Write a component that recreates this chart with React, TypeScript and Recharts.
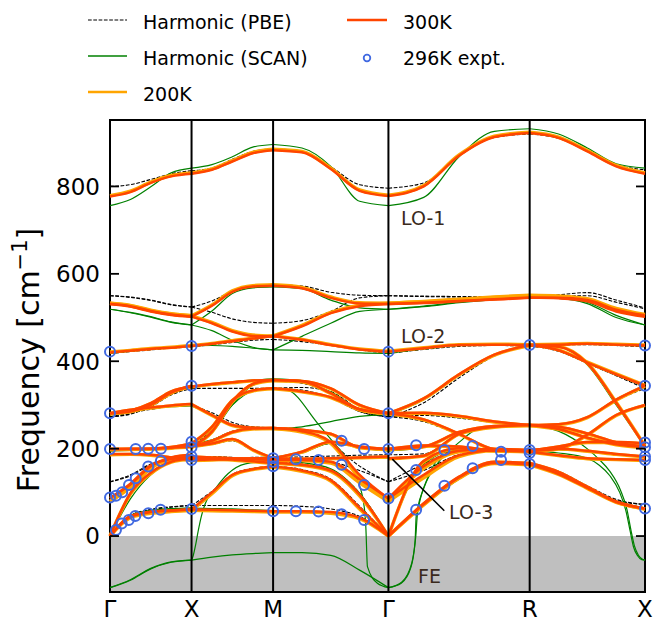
import React from 'react';
import { ComposedChart, Line, Scatter, XAxis, YAxis, ReferenceArea, ReferenceLine } from 'recharts';

const W = 664;
const H = 623;
const PLOT = { left: 110, right: 645, top: 120, bottom: 592 };
const FONT = '"DejaVu Sans", Verdana, sans-serif';

// path Γ-X-M-Γ-R-X, distance in units of 2π/a
const symK = [0, 1, 2, 3.4142, 5.1463, 6.5605];
const symLabels = ['Γ', 'X', 'M', 'Γ', 'R', 'X'];
const yTicks = [0, 200, 400, 600, 800];
const Y_MIN = -128;
const Y_MAX = 952;

// sample positions on each segment
const kGX = [0, 0.25, 0.5, 0.75, 1];
const kXM = [1, 1.25, 1.5, 1.75, 2];
const kMG = [2, 2.3536, 2.7071, 3.0607, 3.4142];
const kGR = [3.4142, 3.8472, 4.2802, 4.7132, 5.1463];
const kRX = [5.1463, 5.4998, 5.8534, 6.2069, 6.5605];

// ---------- 300K ----------
const t300GX = [
  [0, 44, 55, 58, 61], [0, 46, 56, 59, 62], [0, 98, 145, 170, 178], [87, 120, 162, 176, 182],
  [87, 118, 160, 180, 186], [188, 188, 186, 180, 174], [199, 199, 200, 204, 212], [199, 200, 200, 202, 205],
  [281, 289, 294, 299, 302], [281, 287, 304, 331, 342], [281, 285, 300, 328, 344], [420, 424, 428, 431, 435],
  [531, 525, 514, 506, 502], [531, 526, 515, 507, 502], [777, 787, 808, 823, 829],
];
const t300XM = [
  [61, 60, 59, 58, 57], [61, 100, 140, 153, 159], [178, 177, 175, 171, 167], [182, 180, 178, 176, 174],
  [302, 277, 254, 248, 247], [174, 175, 177, 178, 178], [206, 212, 222, 198, 178], [206, 218, 238, 246, 247],
  [212, 250, 311, 333, 338], [203, 239, 308, 348, 357], [342, 348, 352, 356, 357], [435, 440, 446, 452, 457],
  [502, 487, 468, 458, 457], [502, 527, 559, 571, 573], [829, 838, 857, 876, 883],
];
const t300MG = [
  [57, 57, 55, 42, 0], [159, 150, 128, 65, 0], [167, 163, 150, 95, 0], [174, 174, 170, 130, 86],
  [247, 240, 215, 140, 86], [178, 177, 178, 180, 182], [178, 193, 216, 205, 199], [247, 243, 234, 203, 199],
  [338, 331, 318, 290, 281], [357, 354, 327, 290, 281], [357, 355, 338, 300, 281], [457, 449, 437, 427, 422],
  [457, 480, 510, 526, 531], [573, 567, 545, 532, 531], [883, 878, 840, 790, 778],
];
const t300GR = [
  [0, 75, 136, 170, 167], [0, 73, 134, 167, 164], [0, 172, 201, 196, 193], [86, 160, 195, 199, 197],
  [86, 140, 185, 196, 195], [178, 184, 234, 250, 254], [199, 207, 205, 196, 195], [199, 205, 238, 252, 254],
  [281, 267, 234, 199, 195], [281, 315, 370, 415, 437], [281, 282, 275, 262, 254], [422, 430, 437, 438, 437],
  [531, 534, 538, 542, 546], [531, 533, 537, 541, 545], [778, 800, 870, 913, 922],
];
const t300RX = [
  [167, 147, 113, 79, 63], [164, 142, 110, 78, 63], [193, 185, 178, 176, 174], [197, 200, 195, 188, 182],
  [195, 205, 215, 215, 212], [254, 245, 225, 210, 203], [195, 200, 232, 277, 300], [254, 256, 272, 312, 344],
  [254, 250, 235, 215, 205], [437, 425, 397, 370, 344], [437, 433, 395, 305, 205], [437, 438, 440, 438, 436],
  [546, 544, 537, 514, 502], [545, 545, 540, 518, 505], [922, 911, 880, 846, 829],
];

// ---------- 200K ----------
const t200GX = [
  [0, 42, 52, 56, 59], [0, 44, 54, 57, 60], [0, 96, 143, 169, 177], [79, 113, 158, 175, 181],
  [79, 111, 155, 178, 185], [186, 187, 185, 179, 173], [198, 198, 199, 203, 211], [198, 199, 199, 201, 204],
  [280, 288, 293, 298, 301], [280, 286, 303, 330, 341], [280, 284, 299, 327, 343], [421, 425, 429, 432, 436],
  [533, 527, 516, 508, 504], [533, 528, 517, 509, 504], [779, 789, 810, 825, 831],
];
const t200XM = [
  [59, 58, 57, 56, 55], [59, 97, 138, 152, 158], [177, 176, 174, 170, 166], [181, 179, 177, 175, 173],
  [301, 276, 253, 247, 246], [173, 174, 176, 177, 177], [205, 211, 221, 197, 177], [205, 217, 237, 245, 246],
  [211, 249, 310, 332, 337], [202, 238, 307, 347, 356], [341, 347, 351, 355, 356], [436, 441, 447, 453, 458],
  [504, 489, 470, 460, 458], [504, 529, 561, 573, 575], [831, 840, 859, 878, 885],
];
const t200MG = [
  [55, 55, 52, 40, 0], [158, 148, 126, 62, 0], [166, 162, 148, 92, 0], [173, 173, 167, 122, 79],
  [246, 238, 212, 133, 79], [177, 176, 177, 179, 181], [177, 192, 215, 204, 198], [246, 242, 233, 202, 198],
  [337, 330, 317, 289, 280], [356, 353, 326, 289, 280], [356, 354, 337, 299, 280], [458, 450, 438, 428, 423],
  [458, 482, 512, 528, 533], [575, 569, 547, 534, 533], [885, 880, 842, 792, 780],
];
const t200GR = [
  [0, 73, 134, 169, 166], [0, 71, 132, 166, 163], [0, 170, 200, 195, 192], [79, 155, 193, 198, 196],
  [79, 133, 182, 195, 194], [177, 183, 233, 249, 253], [198, 206, 204, 195, 194], [198, 204, 237, 251, 253],
  [280, 266, 233, 198, 194], [280, 314, 369, 414, 436], [280, 281, 274, 261, 253], [423, 431, 438, 439, 438],
  [533, 537, 542, 547, 551], [533, 536, 541, 546, 550], [780, 802, 872, 915, 924],
];
const t200RX = [
  [166, 146, 112, 78, 62], [163, 141, 109, 77, 62], [192, 184, 177, 175, 173], [196, 199, 194, 187, 181],
  [194, 204, 214, 214, 211], [253, 244, 224, 209, 202], [194, 199, 231, 276, 299], [253, 255, 271, 311, 343],
  [253, 249, 234, 214, 204], [438, 426, 398, 371, 345], [438, 434, 396, 306, 206], [438, 439, 441, 439, 437],
  [551, 549, 541, 518, 504], [550, 549, 543, 521, 507], [924, 913, 882, 848, 831],
];

// ---------- harmonic PBE ----------
const pbeGX = [
  [0, 46, 60, 66, 70], [0, 47, 61, 67, 70], [0, 98, 145, 170, 178], [124, 140, 165, 178, 182],
  [124, 138, 163, 179, 186], [186, 186, 184, 180, 176], [197, 197, 198, 202, 208], [197, 198, 198, 200, 204],
  [273, 282, 290, 297, 300], [273, 280, 298, 325, 338], [273, 279, 296, 323, 338], [418, 422, 426, 430, 433],
  [550, 547, 540, 530, 524], [550, 546, 539, 529, 524], [800, 804, 816, 829, 836],
];
const pbeXM = [
  [70, 70, 70, 70, 70], [70, 102, 141, 155, 160], [178, 177, 175, 172, 170], [182, 182, 180, 178, 176],
  [300, 282, 260, 250, 248], [176, 177, 178, 180, 180], [204, 210, 218, 196, 180], [208, 220, 240, 247, 248],
  [204, 245, 305, 333, 338], [208, 240, 305, 345, 355], [338, 338, 338, 338, 338], [433, 438, 443, 448, 450],
  [524, 512, 497, 489, 487], [524, 538, 560, 572, 575], [836, 842, 862, 880, 886],
];
const pbeMG = [
  [70, 68, 62, 45, 0], [160, 152, 130, 68, 0], [170, 165, 152, 98, 0], [176, 176, 170, 150, 124],
  [248, 240, 212, 160, 124], [180, 181, 183, 185, 186], [180, 192, 212, 203, 197], [248, 244, 233, 202, 197],
  [338, 334, 316, 285, 273], [355, 350, 325, 285, 273], [338, 340, 330, 290, 273], [450, 445, 436, 426, 418],
  [487, 493, 514, 545, 550], [575, 572, 558, 551, 550], [886, 880, 845, 804, 796],
];
const pbeGR = [
  [0, 75, 136, 170, 165], [0, 73, 134, 167, 162], [0, 172, 200, 195, 192], [124, 165, 196, 198, 195],
  [124, 150, 186, 195, 192], [186, 188, 234, 250, 254], [197, 205, 203, 194, 192], [197, 203, 236, 250, 254],
  [273, 262, 232, 198, 192], [273, 305, 362, 412, 435], [273, 276, 270, 260, 254], [418, 427, 434, 436, 435],
  [550, 549, 548, 547, 546], [550, 548, 547, 546, 546], [796, 808, 870, 912, 920],
];
const pbeRX = [
  [165, 148, 115, 84, 72], [162, 142, 110, 82, 72], [192, 185, 178, 176, 174], [195, 198, 194, 187, 182],
  [192, 203, 213, 214, 212], [254, 245, 225, 210, 203], [192, 200, 230, 275, 298], [254, 256, 272, 310, 338],
  [254, 250, 235, 215, 205], [435, 423, 395, 367, 338], [435, 433, 395, 305, 205], [435, 437, 438, 436, 433],
  [546, 552, 557, 540, 522], [546, 548, 550, 535, 520], [920, 910, 882, 850, 838],
];

// ---------- harmonic SCAN ----------
const scanGX = [
  [0, 46, 58, 62, 64], [0, 47, 59, 63, 64], [0, 85, 140, 170, 182], [-118, -101, -75, -60, -55],
  [-118, -100, -74, -59, -55], [185, 186, 185, 180, 176], [195, 196, 198, 203, 210], [195, 197, 198, 200, 204],
  [278, 286, 292, 296, 298], [278, 285, 302, 330, 342], [278, 283, 300, 327, 344], [418, 423, 428, 431, 435],
  [519, 512, 502, 490, 483], [519, 511, 501, 489, 483], [756, 770, 799, 831, 842],
];
const scanXM = [
  [64, 63, 62, 60, 58], [-55, -48, -43, -40, -38], [182, 178, 174, 170, 166], [298, 278, 254, 246, 245],
  [176, 176, 176, 177, 178], [204, 210, 220, 196, 176], [210, 220, 238, 246, 245], [212, 245, 300, 332, 338],
  [204, 236, 300, 345, 357], [342, 348, 353, 357, 360], [435, 436, 434, 430, 426], [483, 470, 448, 432, 426],
  [483, 515, 555, 568, 570], [842, 850, 868, 890, 896],
];
const scanMG = [
  [58, 57, 54, 40, 0], [-38, -38, -44, -78, -118], [166, 162, 148, 92, 0], [172, 168, 154, 98, 0],
  [245, 250, 262, 274, 278], [178, 177, 178, 179, 179], [176, 190, 212, 204, 195], [245, 242, 232, 202, 195],
  [357, 352, 330, 290, 278], [360, 356, 338, 298, 278], [426, 425, 422, 419, 418], [426, 457, 487, 514, 519],
  [570, 566, 540, 522, 519], [896, 888, 846, 766, 756],
];
const scanGR = [
  [0, 72, 132, 168, 165], [0, 70, 130, 165, 162], [0, 165, 198, 194, 192], [179, 184, 232, 250, 254],
  [195, 205, 204, 195, 193], [195, 203, 236, 250, 254], [278, 265, 232, 198, 193], [278, 312, 368, 414, 437],
  [278, 279, 272, 260, 254], [418, 428, 436, 438, 437], [519, 526, 535, 542, 546], [519, 525, 534, 541, 546],
  [756, 775, 868, 926, 932],
];
const scanRX = [
  [165, 147, 113, 80, 64], [162, 142, 110, 80, 64], [193, 198, 194, 186, 182], [193, 204, 213, 214, 210],
  [254, 245, 226, 210, 204], [193, 200, 232, 276, 298], [254, 256, 272, 313, 344], [437, 425, 397, 369, 342],
  [437, 433, 392, 300, 204], [437, 438, 440, 438, 435], [546, 544, 532, 500, 483], [546, 545, 535, 505, 483],
  [932, 920, 888, 852, 842],
];
// SCAN branches that bend sharply (k, freq)
const scanSoftXM = [
  [1, -55], [1.02, -45], [1.05, -20], [1.08, 10], [1.12, 45], [1.17, 75], [1.29, 108], [1.45, 143], [1.66, 165], [2, 172],
];
const scanSoftMG = [
  [2, 338], [2.179, 334], [2.546, 258], [2.75, 212], [2.913, 174], [3.035, 128], [3.117, 67], [3.137, 21],
  [3.157, -70], [3.279, -108], [3.4142, -118],
];
const scanSoftGR1 = [
  [3.4142, -118], [3.571, -108], [3.693, -70], [3.742, -9], [3.754, 44], [3.856, 113], [4.02, 167], [4.265, 212],
  [4.59, 250], [5.1463, 254],
];
const scanSoftGR2 = [
  [3.4142, -118], [3.58, -105], [3.7, -62], [3.75, 0], [3.77, 50], [3.9, 135], [4.1, 185], [4.5, 198], [5.1463, 195],
];
const scanSoftRX1 = [
  [5.1463, 195], [5.5, 190], [5.85, 178], [6.0, 162], [6.13, 138], [6.25, 100], [6.33, 55], [6.38, 10],
  [6.42, -25], [6.47, -45], [6.52, -54], [6.5605, -55],
];
const scanSoftRX2 = [
  [5.1463, 254], [5.5, 240], [5.85, 200], [6.0, 175], [6.13, 148], [6.26, 105], [6.34, 60], [6.39, 12],
  [6.43, -22], [6.48, -44], [6.53, -53], [6.5605, -55],
];

// ---------- 296K experiment ----------
const expt = [
  [0, 422], [0, 281], [0, 199], [0, 88], [0.073, 14], [0.143, 29], [0.23, 37], [0.31, 46], [0.47, 52], [0.62, 60],
  [0.073, 92], [0.15, 100], [0.233, 117], [0.315, 132], [0.469, 159], [0.624, 172], [0.315, 199], [0.469, 200],
  [0.624, 200], [1, 435], [1, 344], [1, 216], [1, 203], [1, 182], [1, 174], [1, 62], [2, 178], [2, 170],
  [2, 160], [2, 57], [2.28, 176], [2.558, 174], [2.84, 218], [2.84, 163], [3.116, 199], [3.116, 117],
  [3.116, 37], [2.84, 50], [2.558, 56], [2.28, 57], [3.4142, 422], [3.4142, 281], [3.4142, 199], [3.4142, 86],
  [3.754, 208], [3.754, 151], [3.754, 60], [4.101, 197], [4.101, 115], [4.447, 206], [4.447, 155], [4.795, 193],
  [4.795, 174], [5.1463, 437], [5.1463, 197], [5.1463, 190], [5.1463, 165], [6.5605, 436], [6.5605, 344],
  [6.5605, 214], [6.5605, 203], [6.5605, 182], [6.5605, 174], [6.5605, 63],
];

const toRows = (ks: number[], vals: number[]) => ks.map((k, i) => ({ k, f: vals[i] }));
const toPts = (pts: number[][]) => pts.map(([k, f]) => ({ k, f }));

const styles: Record<string, any> = {
  pbe: { stroke: '#000000', strokeWidth: 1.1, strokeDasharray: '3.7 1.6' },
  scan: { stroke: '#008000', strokeWidth: 1.2 },
  t200: { stroke: '#ffa500', strokeWidth: 3.4 },
  t300: { stroke: '#ff4500', strokeWidth: 2.5 },
};

function bandLines(id: string, segs: [number[], number[][]][], extra: number[][][]) {
  const out: React.ReactElement[] = [];
  const line = (key: string, data: { k: number; f: number }[]) => (
    <Line
      key={key}
      data={data}
      dataKey="f"
      type="monotone"
      dot={false}
      activeDot={false}
      legendType="none"
      isAnimationActive={false}
      {...styles[id]}
    />
  );
  segs.forEach(([ks, bands], s) => bands.forEach((vals, b) => out.push(line(`${id}-${s}-${b}`, toRows(ks, vals)))));
  extra.forEach((pts, e) => out.push(line(`${id}-x${e}`, toPts(pts))));
  return out;
}

const YTick = (p: any) => (
  <g>
    <line x1={PLOT.left} x2={PLOT.left + 9} y1={p.y} y2={p.y} stroke="#000" strokeWidth={1.8} />
    <line x1={PLOT.right - 9} x2={PLOT.right} y1={p.y} y2={p.y} stroke="#000" strokeWidth={1.8} />
    <text x={PLOT.left - 10} y={p.y + 8.4} textAnchor="end" fontSize={23} fontFamily={FONT} fill="#000">
      {p.payload.value}
    </text>
  </g>
);

const XTick = (p: any) => (
  <text x={p.x} y={617} textAnchor="middle" fontSize={23} fontFamily={FONT} fill="#000">
    {symLabels[symK.indexOf(p.payload.value)]}
  </text>
);

const Ring = (p: any) => (
  <circle cx={p.cx} cy={p.cy} r={5} fill="none" stroke="#4169e1" strokeWidth={2} />
);

const labelColor = '#3a2a1c';

export default function App() {
  return (
    <div style={{ position: 'fixed', left: 0, top: 0, width: W, height: H, background: '#fff' }}>
      <ComposedChart width={W} height={H} margin={{ top: PLOT.top, right: W - PLOT.right, bottom: 0, left: 50 }}>
        <XAxis
          type="number"
          dataKey="k"
          domain={[0, 6.5605]}
          ticks={symK}
          height={H - PLOT.bottom}
          axisLine={false}
          tickLine={false}
          tick={<XTick />}
          interval={0}
        />
        <YAxis
          type="number"
          domain={[Y_MIN, Y_MAX]}
          ticks={yTicks}
          width={60}
          axisLine={false}
          tickLine={false}
          tick={<YTick />}
          interval={0}
        />
        <ReferenceArea x1={0} x2={6.5605} y1={Y_MIN} y2={0} fill="#bfbfbf" fillOpacity={1} stroke="none" />
        {bandLines('pbe', [[kGX, pbeGX], [kXM, pbeXM], [kMG, pbeMG], [kGR, pbeGR], [kRX, pbeRX]], [])}
        {bandLines('scan', [[kGX, scanGX], [kXM, scanXM], [kMG, scanMG], [kGR, scanGR], [kRX, scanRX]], [
          scanSoftXM, scanSoftMG, scanSoftGR1, scanSoftGR2, scanSoftRX1, scanSoftRX2,
        ])}
        {bandLines('t200', [[kGX, t200GX], [kXM, t200XM], [kMG, t200MG], [kGR, t200GR], [kRX, t200RX]], [])}
        {bandLines('t300', [[kGX, t300GX], [kXM, t300XM], [kMG, t300MG], [kGR, t300GR], [kRX, t300RX]], [])}
        {symK.slice(1, 5).map((k) => (
          <ReferenceLine key={`v${k}`} x={k} stroke="#000" strokeWidth={2} />
        ))}
        <ReferenceLine segment={[{ x: 3.462, y: 176 }, { x: 4.099, y: 58 }]} stroke="#000" strokeWidth={1.5} />
        <ReferenceArea x1={0} x2={6.5605} y1={Y_MIN} y2={Y_MAX} fill="none" stroke="#000" strokeWidth={2} />
        <Scatter data={toPts(expt)} dataKey="f" shape={Ring} isAnimationActive={false} legendType="none" />
      </ComposedChart>

      <svg
        width={W}
        height={H}
        style={{ position: 'absolute', left: 0, top: 0, pointerEvents: 'none' }}
        fontFamily={FONT}
      >
        {/* legend */}
        <line x1={88} x2={127} y1={20} y2={20} stroke="#000" strokeWidth={1.1} strokeDasharray="3.7 1.6" />
        <line x1={88} x2={127} y1={56} y2={56} stroke="#008000" strokeWidth={1.3} />
        <line x1={88} x2={127} y1={92} y2={92} stroke="#ffa500" strokeWidth={2.6} />
        <line x1={347} x2={387} y1={20} y2={20} stroke="#ff4500" strokeWidth={2.6} />
        <circle cx={367} cy={58} r={3.3} fill="none" stroke="#4169e1" strokeWidth={1.8} />
        <text x={143} y={29} fontSize={19}>Harmonic (PBE)</text>
        <text x={143} y={65} fontSize={19}>Harmonic (SCAN)</text>
        <text x={143} y={101} fontSize={19}>200K</text>
        <text x={403} y={29} fontSize={19}>300K</text>
        <text x={403} y={65} fontSize={19}>296K expt.</text>

        {/* mode labels */}
        <text x={401} y={225} fontSize={19} fill={labelColor}>LO-1</text>
        <text x={401} y={343} fontSize={19} fill={labelColor}>LO-2</text>
        <text x={449} y={519} fontSize={19} fill={labelColor}>LO-3</text>
        <text x={418} y={583} fontSize={19} fill={labelColor}>FE</text>

        {/* y label */}
        <text x={38.5} y={360} fontSize={30} textAnchor="middle" transform="rotate(-90 38.5 360)">
          Frequency [cm
          <tspan fontSize={21} dy={-12}>−1</tspan>
          <tspan dy={12}>]</tspan>
        </text>
      </svg>
    </div>
  );
}
